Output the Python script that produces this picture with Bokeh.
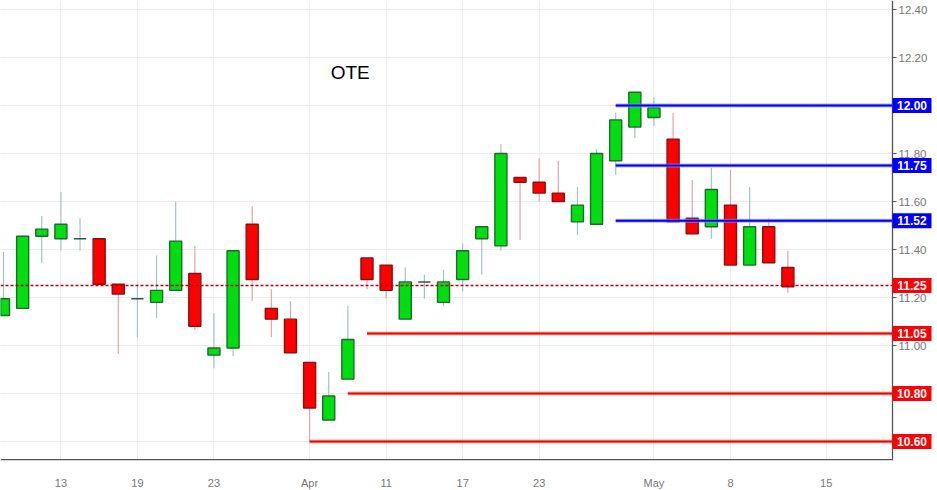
from bokeh.plotting import figure
from bokeh.models import Range1d, FixedTicker, Label, ColumnDataSource
from bokeh.core.properties import value
from bokeh.embed import file_html
from bokeh.resources import INLINE

# ---------------- data ----------------
dates = ["2018-03-08", "2018-03-09", "2018-03-12", "2018-03-13", "2018-03-14", "2018-03-15",
         "2018-03-16", "2018-03-19", "2018-03-20", "2018-03-21", "2018-03-22", "2018-03-23",
         "2018-03-26", "2018-03-27", "2018-03-28", "2018-03-29", "2018-04-03", "2018-04-04",
         "2018-04-05", "2018-04-10", "2018-04-11", "2018-04-12", "2018-04-13", "2018-04-16",
         "2018-04-17", "2018-04-18", "2018-04-19", "2018-04-20", "2018-04-23", "2018-04-24",
         "2018-04-25", "2018-04-26", "2018-04-27", "2018-04-30", "2018-05-02", "2018-05-03",
         "2018-05-04", "2018-05-07", "2018-05-08", "2018-05-09", "2018-05-10", "2018-05-11"]
opens = [11.125, 11.155, 11.455, 11.445, 11.445, 11.445, 11.255, 11.195, 11.18, 11.23, 11.30, 10.96,
         10.99, 11.505, 11.155, 11.11, 10.93, 10.69, 10.86, 11.365, 11.335, 11.11, 11.265, 11.18,
         11.275, 11.445, 11.415, 11.70, 11.68, 11.635, 11.515, 11.505, 11.77, 11.91, 11.95, 11.86,
         11.53, 11.495, 11.585, 11.335, 11.495, 11.325]
highs = [11.39, 11.46, 11.54, 11.64, 11.53, 11.445, 11.255, 11.255, 11.375, 11.60, 11.415, 11.135,
         11.395, 11.58, 11.235, 11.185, 10.93, 10.89, 11.165, 11.365, 11.335, 11.325, 11.295, 11.315,
         11.425, 11.495, 11.84, 11.70, 11.78, 11.77, 11.66, 11.82, 11.97, 12.055, 12.035, 11.97,
         11.69, 11.74, 11.73, 11.66, 11.53, 11.395]
lows = [11.125, 11.155, 11.345, 11.395, 11.395, 11.255, 10.965, 11.035, 11.115, 11.23, 11.065, 10.905,
        10.955, 11.185, 11.035, 10.97, 10.60, 10.69, 10.86, 11.235, 11.195, 11.11, 11.195, 11.165,
        11.225, 11.295, 11.395, 11.44, 11.60, 11.60, 11.46, 11.505, 11.71, 11.865, 11.915, 11.515,
        11.465, 11.445, 11.335, 11.335, 11.345, 11.22]
closes = [11.195, 11.455, 11.485, 11.505, 11.445, 11.255, 11.215, 11.195, 11.23, 11.435, 11.08, 10.99,
          11.395, 11.275, 11.11, 10.97, 10.74, 10.79, 11.025, 11.275, 11.23, 11.265, 11.265, 11.265,
          11.395, 11.495, 11.80, 11.68, 11.635, 11.60, 11.585, 11.80, 11.94, 12.055, 11.99, 11.515,
          11.465, 11.65, 11.335, 11.495, 11.345, 11.245]
future_dates = ["2018-05-14", "2018-05-15"]

tick_dates = ["2018-03-13", "2018-03-19", "2018-03-23", "2018-04-03", "2018-04-11",
              "2018-04-17", "2018-04-23", "2018-05-02", "2018-05-08", "2018-05-15"]
tick_labels = ["13", "19", "23", "Apr", "11", "17", "23", "May", "8", "15"]
y_ticks = [10.6, 10.8, 11.0, 11.2, 11.4, 11.6, 11.8, 12.0, 12.2, 12.4]
y_tick_labels = ["10.60", "10.80", "11.00", "11.20", "11.40", "11.60", "11.80", "12.00", "12.20", "12.40"]

resistance_levels = [12.00, 11.75, 11.52]
resistance_from = ["2018-04-27", "2018-04-27", "2018-04-27"]
support_levels = [11.05, 10.80, 10.60]
support_from = ["2018-04-10", "2018-04-05", "2018-04-03"]
last_price = 11.25
title_text = "OTE"

# ---------------- layout / styling ----------------
calendar = dates + future_dates
idx = {d: i for i, d in enumerate(calendar)}
PX = 19.131                      # pixels per trading day
X0 = -0.157                      # left edge of frame
X1 = X0 + 892 / PX               # price-axis position
XR = X0 + 937 / PX               # right edge of canvas
Y0, Y1 = 10.521, 12.4375
PY = 460 / (Y1 - Y0)             # pixels per price unit

GREEN, GREEN_EDGE, GREEN_WICK = "#00dd11", "#1e6b2a", "#a3c3c9"
RED, RED_EDGE, RED_WICK = "#ff0000", "#8a1010", "#e6a3aa"
DOJI = "#2a5a48"
AXIS = "#555555"
FONT = value("Liberation Sans")

p = figure(frame_width=937, frame_height=460, output_backend="svg", toolbar_location=None,
           x_range=Range1d(X0, XR), y_range=Range1d(Y0, Y1), y_axis_location=None,
           min_border_left=0, min_border_top=0, min_border_right=0, min_border_bottom=30,
           background_fill_color="white", border_fill_color="white")
p.outline_line_color = None

# grid (horizontal lines stop at the price axis)
p.ygrid.grid_line_color = None
p.segment([X0] * len(y_ticks), y_ticks, [X1] * len(y_ticks), y_ticks, color="#ececec", line_width=1)
p.xgrid.ticker = FixedTicker(ticks=[idx[d] for d in tick_dates])
p.xgrid.grid_line_color = "#ececec"

xs = [idx[d] for d in dates]
up = [c > o for o, c in zip(opens, closes)]
doji = [c == o for o, c in zip(opens, closes)]
src = ColumnDataSource(dict(
    x=xs, o=opens, h=highs, l=lows, c=closes,
    top=[max(o, c) for o, c in zip(opens, closes)],
    bot=[min(o, c) for o, c in zip(opens, closes)],
    wick=[GREEN_WICK if (u or d) else RED_WICK for u, d in zip(up, doji)],
    fill=[GREEN if u else RED for u in up],
    edge=[GREEN_EDGE if u else RED_EDGE for u in up],
))
p.segment("x", "h", "x", "l", source=src, color="wick", line_width=1.2)

body_idx = [i for i in range(len(dates)) if not doji[i]]
bsrc = ColumnDataSource({k: [v[i] for i in body_idx] for k, v in src.data.items()})
p.vbar(x="x", top="top", bottom="bot", width=0.63, source=bsrc,
       fill_color="fill", line_color="edge", line_width=1.4)

d_idx = [i for i in range(len(dates)) if doji[i]]
p.segment([xs[i] - 0.32 for i in d_idx], [opens[i] for i in d_idx],
          [xs[i] + 0.32 for i in d_idx], [closes[i] for i in d_idx],
          color=DOJI, line_width=1.5)

# last price dotted line
p.segment([X0], [last_price], [X1], [last_price], color="#c00000", line_width=1.3, line_dash="3 2")

# level lines
for lv, d in zip(resistance_levels, resistance_from):
    p.segment([idx[d]], [lv], [X1], [lv], color="#8c8cff", line_width=4, alpha=0.7)
    p.segment([idx[d]], [lv], [X1], [lv], color="#0000ee", line_width=2)
for lv, d in zip(support_levels, support_from):
    p.segment([idx[d]], [lv], [X1], [lv], color="#ff9a9a", line_width=4, alpha=0.7)
    p.segment([idx[d]], [lv], [X1], [lv], color="#ee0000", line_width=2)

# bottom axis: labels from Bokeh, axis line drawn up to the price axis
bx = p.xaxis[0]
bx.ticker = FixedTicker(ticks=[idx[d] for d in tick_dates])
bx.major_label_overrides = {idx[d]: t for d, t in zip(tick_dates, tick_labels)}
bx.axis_line_color = None
bx.major_tick_line_color = None
bx.minor_tick_line_color = None
bx.major_label_text_color = "#777777"
bx.major_label_text_font = "Liberation Sans"
bx.major_label_text_font_size = "11px"
bx.major_label_standoff = 10
p.segment([X0], [Y0 + 0.7 / PY], [X1], [Y0 + 0.7 / PY], color=AXIS, line_width=1.4)

# right price axis
p.segment([X1], [Y0], [X1], [Y1], color=AXIS, line_width=1.3)
p.segment([X1] * len(y_ticks), y_ticks, [X1 + 4 / PX] * len(y_ticks), y_ticks, color=AXIS, line_width=1)
p.text([X1 + 6 / PX] * len(y_ticks), y_ticks, text=y_tick_labels, text_color="#777777",
       text_font=FONT, text_font_size="11.5px", text_align="left", text_baseline="middle")

# price tags
tag_vals = resistance_levels + support_levels + [last_price]
tag_cols = ["#0000ff"] * len(resistance_levels) + ["#ff0000"] * (len(support_levels) + 1)
p.rect([X1 + 19.5 / PX] * len(tag_vals), tag_vals, width=39, height=15,
       width_units="screen", height_units="screen", fill_color=tag_cols, line_color=None)
p.text([X1 + 19.5 / PX] * len(tag_vals), tag_vals, text=[f"{v:.2f}" for v in tag_vals],
       text_color="white", text_font=FONT, text_font_style="bold", text_font_size="12px",
       text_align="center", text_baseline="middle")

p.add_layout(Label(x=17.1, y=12.1375, text=title_text, text_color="black",
                   text_font="Liberation Sans", text_font_size="19px",
                   text_align="left", text_baseline="middle"))

open("out.html", "w").write(file_html(p, INLINE))
